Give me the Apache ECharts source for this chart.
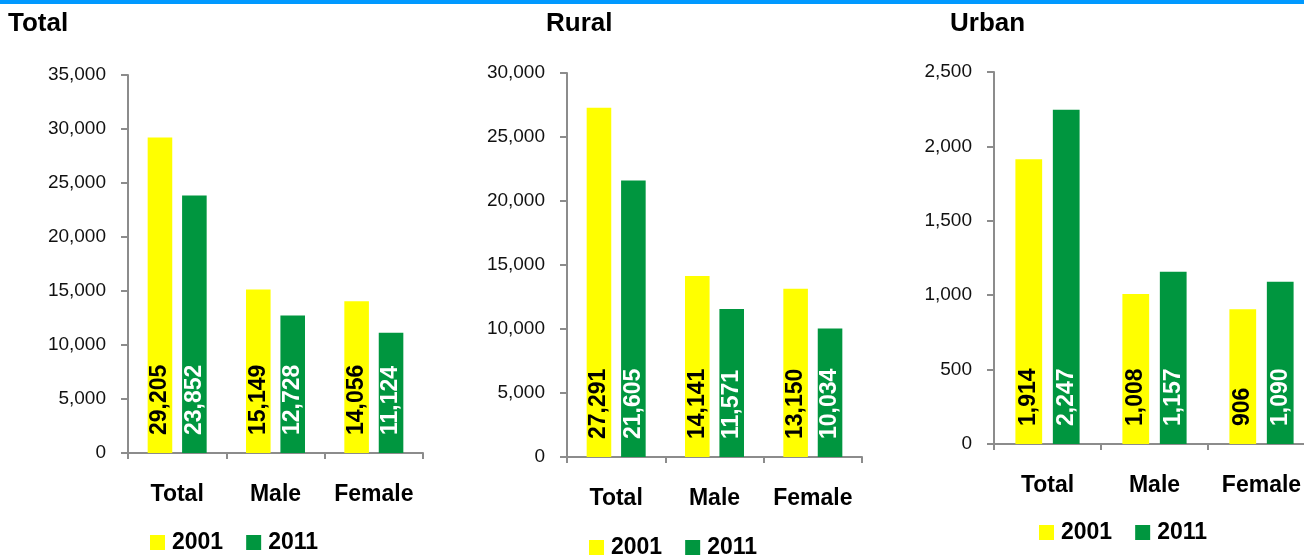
<!DOCTYPE html>
<html>
<head>
<meta charset="utf-8">
<script src="https://cdn.jsdelivr.net/npm/echarts@6/dist/echarts.min.js"></script>
<style>
  html, body { margin: 0; padding: 0; background: #fff; }
  #chart { width: 1304px; height: 557px; }
</style>
</head>
<body>
<div id="chart"></div>
<script>
// categories and values
var categories = ['Total', 'Male', 'Female'];
var panelTitles = ['Total', 'Rural', 'Urban'];
var years = ['2001', '2011'];

var total2001 = [29205, 15149, 14056];
var total2011 = [23852, 12728, 11124];
var rural2001 = [27291, 14141, 13150];
var rural2011 = [21605, 11571, 10034];
var urban2001 = [1914, 1008, 906];
var urban2011 = [2247, 1157, 1090];

var axisMax = [35000, 30000, 2500];
var axisStep = [5000, 5000, 500];

var YELLOW = '#ffff00';
var GREEN = '#00963f';
var AXIS_GREY = '#8c8c8c';
var FONT = '"Liberation Sans", Arial, sans-serif';

function fmt(v) {
    return Number(v).toLocaleString('en-US');
}

// grid boxes for the three panels (px); the urban one runs past the right edge
var grids = [
    {left: 128, width: 295, top: 75, bottom: 104},
    {left: 567, width: 295, top: 73, bottom: 100},
    {left: 994, width: 321, top: 72, bottom: 113}
];
var titlePos = [{left: 8, top: 11}, {left: 546, top: 11}, {left: 950, top: 11}];
var legendPos = [{left: 150, top: 531}, {left: 589, top: 536}, {left: 1039, top: 521}];
var seriesData = [[total2001, total2011], [rural2001, rural2011], [urban2001, urban2011]];

var option = {
    animation: false,
    backgroundColor: '#fff',
    graphic: [{
        type: 'rect', left: 0, top: 0,
        shape: {width: 1304, height: 4},
        style: {fill: '#0099ff'}
    }],
    title: [],
    legend: [],
    grid: [],
    xAxis: [],
    yAxis: [],
    series: []
};

for (var i = 0; i < 3; i++) {
    option.title.push({
        text: panelTitles[i],
        left: titlePos[i].left, top: titlePos[i].top, padding: 0,
        textStyle: {fontFamily: FONT, fontWeight: 'bold', fontSize: 26, color: '#000'}
    });
    var g = grids[i];
    option.grid.push({
        left: g.left, width: g.width, top: g.top, bottom: g.bottom,
        outerBoundsMode: 'none'
    });
    option.xAxis.push({
        type: 'category', gridIndex: i, data: categories,
        axisLine: {lineStyle: {color: AXIS_GREY, width: 2}},
        axisTick: {show: true, length: 6, lineStyle: {color: AXIS_GREY, width: 2}},
        axisLabel: {
            interval: 0, margin: 30, color: '#000', fontFamily: FONT,
            fontWeight: 'bold', fontSize: 23
        }
    });
    option.yAxis.push({
        type: 'value', gridIndex: i, min: 0, max: axisMax[i], interval: axisStep[i],
        splitLine: {show: false},
        axisLine: {show: true, lineStyle: {color: AXIS_GREY, width: 2}},
        axisTick: {show: true, length: 7, lineStyle: {color: AXIS_GREY, width: 2}},
        axisLabel: {
            margin: 22, color: '#111', fontFamily: FONT, fontSize: 19,
            formatter: fmt
        }
    });
    option.legend.push({
        data: years,
        left: legendPos[i].left, top: legendPos[i].top, padding: 0,
        itemWidth: 15, itemHeight: 15, itemGap: 23,
        icon: 'rect',
        textStyle: {fontFamily: FONT, fontWeight: 'bold', fontSize: 23, color: '#000', padding: [0, 0, 0, 2]}
    });
    for (var j = 0; j < 2; j++) {
        option.series.push({
            name: years[j],
            type: 'bar',
            xAxisIndex: i, yAxisIndex: i,
            data: seriesData[i][j],
            barWidth: '25%',
            barGap: '40%',
            itemStyle: {color: j === 0 ? YELLOW : GREEN},
            label: {
                show: true,
                position: 'insideBottom',
                rotate: 90,
                align: 'left',
                verticalAlign: 'middle',
                distance: 18,
                fontFamily: FONT,
                fontWeight: 'bold',
                fontSize: 23,
                color: j === 0 ? '#000' : '#fff',
                formatter: function (p) { return fmt(p.value); }
            }
        });
    }
}

var chart = echarts.init(document.getElementById('chart'));
chart.setOption(option);
</script>
</body>
</html>
